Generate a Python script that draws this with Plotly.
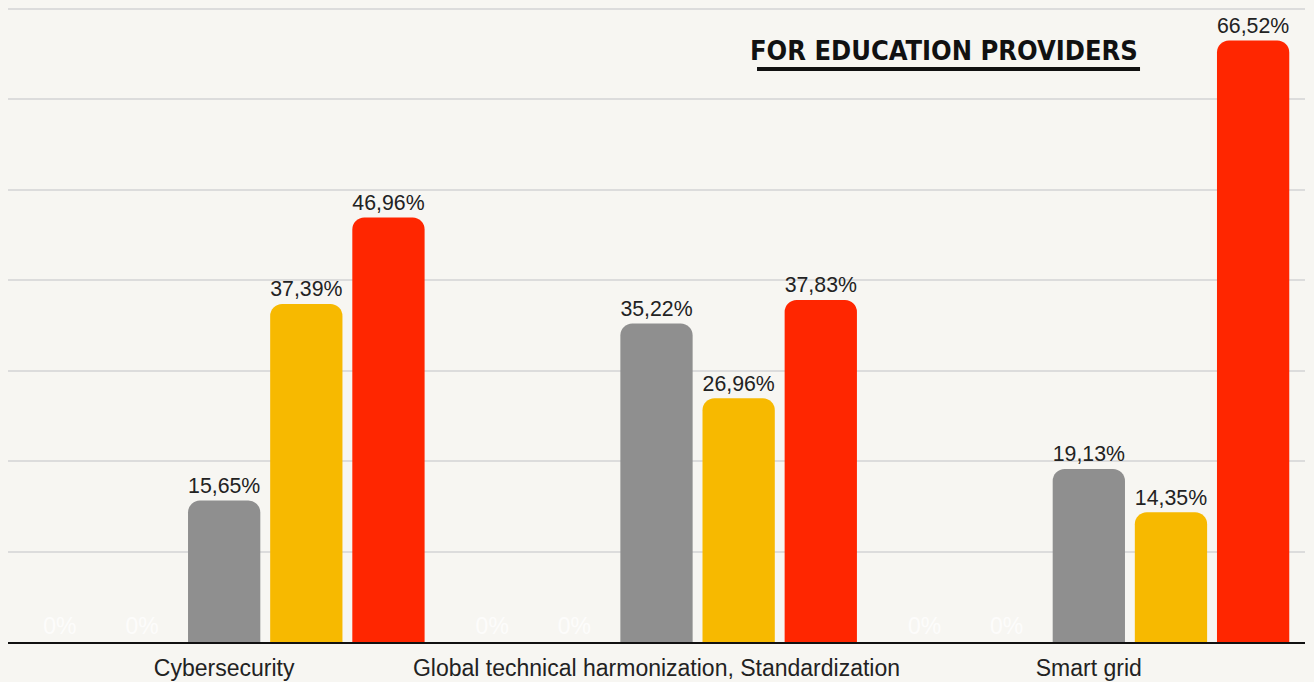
import plotly.graph_objects as go

categories = ["Cybersecurity", "Global technical harmonization, Standardization", "Smart grid"]
series_names = ["Series A", "Series B", "Series C", "Series D", "Series E"]
values = [
    [0, 0, 0],
    [0, 0, 0],
    [15.65, 35.22, 19.13],
    [37.39, 26.96, 14.35],
    [46.96, 37.83, 66.52],
]
colors = ["#8f8f8f", "#8f8f8f", "#8f8f8f", "#f7b900", "#ff2600"]
title_text = "FOR EDUCATION PROVIDERS"


def fmt(v):
    return "0%" if v == 0 else f"{v:.2f}%".replace(".", ",")


fig = go.Figure()
for name, vals, col in zip(series_names, values, colors):
    fig.add_trace(go.Bar(
        x=categories, y=vals, name=name,
        marker=dict(color=col, line=dict(width=0)),
        text=[fmt(v) for v in vals],
        textposition="outside",
        textfont=dict(
            family="Liberation Sans, Arial, sans-serif", size=23,
            color=["rgba(255,255,255,0.75)" if v == 0 else "#222222" for v in vals],
        ),
        cliponaxis=False,
    ))

fig.update_layout(
    width=1314, height=682,
    margin=dict(l=8, r=9, t=0, b=40),
    paper_bgcolor="#f7f6f2", plot_bgcolor="#f7f6f2",
    barmode="group", bargap=0.05, bargroupgap=0.12,
    barcornerradius=12,
    showlegend=False,
    xaxis=dict(
        showline=True, linecolor="#111111", linewidth=2,
        ticks="", showgrid=False, ticklabelstandoff=4,
        tickfont=dict(family="Liberation Sans, Arial, sans-serif", size=23, color="#222222"),
    ),
    yaxis=dict(
        range=[0, 71], dtick=10, showticklabels=False,
        showgrid=True, gridcolor="#dcdcdc", gridwidth=2,
        zeroline=False,
    ),
    annotations=[dict(
        text="<b>" + title_text + "</b>", xref="paper", yref="paper",
        x=0.8728, y=0.9206, xanchor="right", yanchor="middle", showarrow=False,
        font=dict(family="DejaVu Sans Condensed, sans-serif", size=27, color="#111111"),
    )],
    shapes=[dict(
        type="line", xref="paper", yref="paper",
        x0=0.5775, x1=0.8728, y0=0.8925, y1=0.8925,
        line=dict(color="#111111", width=4),
    )],
)

fig.write_html("out.html", config={"displayModeBar": False},
               post_script="document.body.style.margin='0px';")
